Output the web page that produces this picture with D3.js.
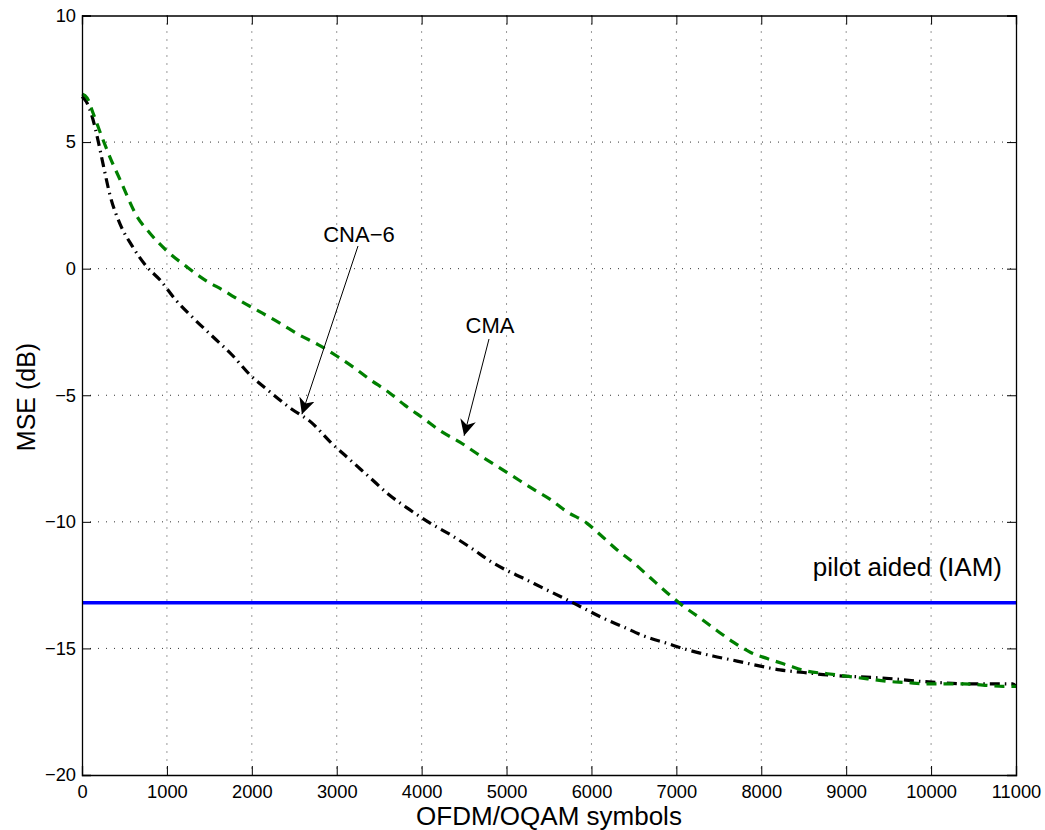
<!DOCTYPE html>
<html><head><meta charset="utf-8">
<script src="https://cdn.jsdelivr.net/npm/d3@7"></script>
<style>body{margin:0;background:#fff}svg{display:block}text{font-family:"Liberation Sans",Arial,sans-serif}</style>
</head><body>
<svg id="c" width="1045" height="830"></svg>
<script>
const xTicks = [0,1000,2000,3000,4000,5000,6000,7000,8000,9000,10000,11000];
const yTicks = [-20,-15,-10,-5,0,5,10];
const cmaX = [0,60,130,235,330,450,650,800,1000,1235,1450,1660,1880,2120,2330,2550,2780,3000,3200,3400,3600,3805,4015,4240,4450,4650,4840,5075,5310,5510,5710,5945,6100,6300,6490,6690,6890,7070,7280,7480,7670,7870,8070,8300,8540,8780,9010,9250,9480,9720,9910,10140,10380,10610,10850,11000];
const cmaY = [6.9,6.75,6.15,5.2,4.4,3.5,2.05,1.4,0.7,0.07,-0.45,-0.85,-1.3,-1.75,-2.15,-2.6,-3.0,-3.45,-3.9,-4.4,-4.85,-5.4,-5.9,-6.45,-6.85,-7.3,-7.7,-8.2,-8.7,-9.1,-9.6,-10.05,-10.5,-11.1,-11.6,-12.2,-12.8,-13.3,-13.8,-14.3,-14.75,-15.15,-15.4,-15.65,-15.9,-16.0,-16.1,-16.2,-16.3,-16.35,-16.4,-16.4,-16.4,-16.45,-16.5,-16.5];
const cnaX = [0,50,120,180,250,330,450,590,765,920,1095,1310,1545,1765,1980,2215,2450,2710,2920,3157,3390,3605,3850,4100,4335,4590,4830,5020,5180,5420,5665,5900,6135,6375,6610,6890,7125,7430,7715,7990,8220,8500,8780,9010,9320,9550,9870,10100,10420,10660,10960,11000];
const cnaY = [6.8,6.6,6.0,5.2,4.1,2.9,1.75,0.9,0.07,-0.45,-1.2,-1.95,-2.7,-3.4,-4.2,-4.87,-5.5,-6.1,-6.83,-7.55,-8.25,-8.9,-9.5,-10.05,-10.5,-11.05,-11.6,-11.95,-12.2,-12.6,-13.0,-13.4,-13.8,-14.15,-14.5,-14.8,-15.05,-15.3,-15.5,-15.7,-15.85,-15.95,-16.05,-16.1,-16.15,-16.2,-16.3,-16.35,-16.4,-16.4,-16.4,-16.5];
const pilotLevel = -13.2;

const svg = d3.select('#c');
const L=82, R=1016, T=15.5, B=775;
const x = d3.scaleLinear().domain([0,11000]).range([L,R]);
const y = d3.scaleLinear().domain([-20,10]).range([B,T]);

// grid
const g = svg.append('g');
g.selectAll('.gx').data(xTicks.slice(1,-1)).enter().append('line')
 .attr('x1',d=>x(d)).attr('x2',d=>x(d)).attr('y1',T).attr('y2',B)
 .attr('stroke','#333').attr('stroke-width',1).attr('stroke-dasharray','1,7');
g.selectAll('.gy').data(yTicks.slice(1,-1)).enter().append('line')
 .attr('y1',d=>y(d)).attr('y2',d=>y(d)).attr('x1',L).attr('x2',R)
 .attr('stroke','#333').attr('stroke-width',1).attr('stroke-dasharray','1,7');

// pilot line
svg.append('line').attr('x1',x(0)).attr('x2',x(11000)).attr('y1',y(pilotLevel)).attr('y2',y(pilotLevel))
 .attr('stroke','#0000ff').attr('stroke-width',3.5);

const line = d3.line().x(d=>x(d[0])).y(d=>y(d[1])).curve(d3.curveMonotoneX);
svg.append('path').datum(cnaX.map((v,i)=>[v,cnaY[i]])).attr('d',line)
 .attr('fill','none').attr('stroke','#000').attr('stroke-width',3.2).attr('stroke-dasharray','10,5,1.5,5');
svg.append('path').datum(cmaX.map((v,i)=>[v,cmaY[i]])).attr('d',line)
 .attr('fill','none').attr('stroke','#008000').attr('stroke-width',3.2).attr('stroke-dasharray','10,7');

// axes
svg.append('g').attr('transform',`translate(0,${B})`)
 .call(d3.axisBottom(x).tickValues(xTicks).tickFormat(d3.format('d')).tickSize(-9).tickPadding(10));
svg.append('g').attr('transform',`translate(${L},0)`)
 .call(d3.axisLeft(y).tickValues(yTicks).tickFormat(d=>d<0?'\u2212'+Math.abs(d):d).tickSize(-9).tickPadding(6));
svg.append('g').attr('transform',`translate(0,${T})`)
 .call(d3.axisTop(x).tickValues(xTicks).tickFormat('').tickSize(-9));
svg.append('g').attr('transform',`translate(${R},0)`)
 .call(d3.axisRight(y).tickValues(yTicks).tickFormat('').tickSize(-9));
svg.selectAll('.domain').attr('stroke','#000').attr('stroke-width',1.3);
svg.selectAll('.tick line').attr('stroke','#000').attr('stroke-width',1);
svg.selectAll('.tick text').attr('font-size',18.3).attr('fill','#000').style('font-family','"Liberation Sans",Arial,sans-serif');

// labels
svg.append('text').attr('x',(L+R)/2).attr('y',825).attr('text-anchor','middle').attr('font-size',26).text('OFDM/OQAM symbols');
svg.append('text').attr('transform','translate(35,397) rotate(-90)').attr('text-anchor','middle').attr('font-size',25).text('MSE (dB)');

// annotations
svg.append('defs').append('marker').attr('id','ah').attr('viewBox','0 0 10 10').attr('refX',10).attr('refY',5)
 .attr('markerWidth',16).attr('markerHeight',16).attr('markerUnits','userSpaceOnUse').attr('orient','auto')
 .append('path').attr('d','M0,0 L10,5 L0,10 L3,5 Z').attr('fill','#000');
function ann(txt,tx,ty,px,py,ex,ey){
  svg.append('text').attr('x',tx).attr('y',ty).attr('text-anchor','middle').attr('font-size',22).text(txt);
  svg.append('line').attr('x1',px).attr('y1',py).attr('x2',ex).attr('y2',ey).attr('stroke','#000').attr('stroke-width',1).attr('marker-end','url(#ah)');
}
ann('CNA\u22126',359,242,358,246,x(2590),y(-5.75));
ann('CMA',490,333,489,339,x(4500),y(-6.6));
svg.append('text').attr('x',1002).attr('y',576).attr('text-anchor','end').attr('font-size',26).text('pilot aided (IAM)');
</script>
</body></html>
